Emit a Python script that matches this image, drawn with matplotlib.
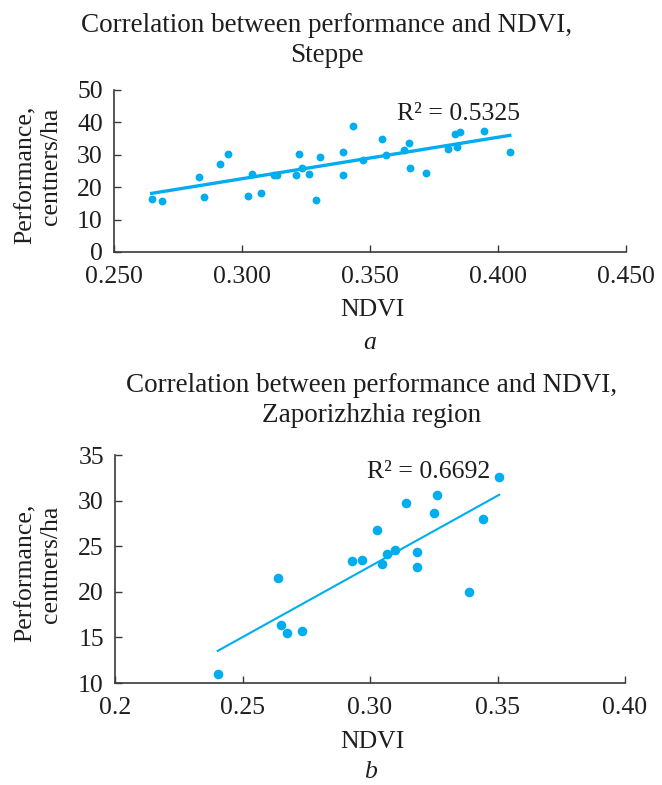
import numpy as np
import matplotlib
matplotlib.use('Agg')
import matplotlib.pyplot as plt

plt.rcParams['font.family'] = ['Liberation Serif', 'DejaVu Serif']

# --- data ---
# panel a: Steppe
ndvi_a = [0.2647, 0.2686, 0.2832, 0.2852, 0.2914, 0.2947, 0.3025, 0.3038, 0.3074,
          0.3125, 0.3135, 0.3210, 0.3223, 0.3236, 0.3262, 0.3288, 0.3306, 0.3395,
          0.3395, 0.3434, 0.3471, 0.3548, 0.3564, 0.3633, 0.3651, 0.3656, 0.3720,
          0.3803, 0.3833, 0.3850, 0.3841, 0.3944, 0.4046]
perf_a = [16.3, 15.6, 23.3, 17.1, 27.3, 30.4, 17.2, 24.2, 18.2,
          23.7, 23.9, 23.7, 30.4, 25.8, 24.1, 16.2, 29.3, 30.9,
          23.7, 39.0, 28.3, 35.0, 29.9, 31.4, 33.5, 25.8, 24.4,
          31.9, 36.4, 36.9, 32.3, 37.5, 30.9]
r2_a = 'R² = 0.5325'

# panel b: Zaporizhzhia region
ndvi_b = [0.2403, 0.2641, 0.2650, 0.2676, 0.2732, 0.2931, 0.2967, 0.3027, 0.3047,
          0.3065, 0.3098, 0.3141, 0.3184, 0.3184, 0.3251, 0.3261, 0.3388, 0.3443,
          0.3507]
perf_b = [11.0, 21.5, 16.4, 15.5, 15.7, 23.4, 23.5, 26.8, 23.0,
          24.1, 24.6, 29.7, 24.4, 22.7, 28.6, 30.6, 20.0, 28.0,
          32.6]
r2_b = 'R² = 0.6692'

xticks_a = [0.25, 0.30, 0.35, 0.40, 0.45]
xlabels_a = ['0.250', '0.300', '0.350', '0.400', '0.450']
yticks_a = [0, 10, 20, 30, 40, 50]
xticks_b = [0.20, 0.25, 0.30, 0.35, 0.40]
xlabels_b = ['0.2', '0.25', '0.30', '0.35', '0.40']
yticks_b = [10, 15, 20, 25, 30, 35]

BLUE = '#00AEEF'
FS = 18.5
TFS = 19.5
INK = '#1e1e1e'
W, H = 662, 785

fig = plt.figure(figsize=(W / 100, H / 100), dpi=100)


def px(x, y):
    return x / W, 1 - y / H


def panel(rect, x, y, xticks, xlabels, yticks, r2, r2pos, ms, lw):
    ax = fig.add_axes(rect)
    ax.scatter(x, y, s=ms, color=BLUE, zorder=3, linewidths=0)
    k, b = np.polyfit(x, y, 1)
    xs = np.array([min(x), max(x)])
    ax.plot(xs, k * xs + b, color=BLUE, lw=lw, zorder=2)
    ax.set_xlim(xticks[0], xticks[-1])
    ax.set_ylim(yticks[0], yticks[-1])
    ax.set_xticks(xticks)
    ax.set_xticklabels(xlabels)
    ax.set_yticks(yticks)
    for s in ['top', 'right']:
        ax.spines[s].set_visible(False)
    for s in ['left', 'bottom']:
        ax.spines[s].set_color('#3a3a3a')
        ax.spines[s].set_linewidth(1.2)
    ax.tick_params(direction='in', length=5, width=1, color='#3a3a3a',
                   labelsize=FS, labelcolor=INK)
    ax.tick_params(axis='x', pad=10)
    ax.tick_params(axis='y', pad=8)
    ax.text(r2pos[0], r2pos[1], r2, transform=ax.transAxes, fontsize=FS,
            ha='center', va='center', color=INK)
    return ax


ax1 = panel([114 / W, 1 - 252 / H, 512 / W, 162 / H], ndvi_a, perf_a,
            xticks_a, xlabels_a, yticks_a, r2_a, (0.672, 0.852), 32, 2.4)
ax2 = panel([115 / W, 1 - 683 / H, 510 / W, 228 / H], ndvi_b, perf_b,
            xticks_b, xlabels_b, yticks_b, r2_b, (0.614, 0.925), 48, 1.5)

# titles
fig.text(*px(327, 26), 'Correlation between performance and NDVI,', fontsize=TFS,
         ha='center', va='center', color=INK)
fig.text(*px(327, 55), 'Steppe', fontsize=TFS, ha='center', va='center', color=INK)
fig.text(*px(372, 386), 'Correlation between performance and NDVI,', fontsize=TFS,
         ha='center', va='center', color=INK)
fig.text(*px(372, 415), 'Zaporizhzhia region', fontsize=TFS, ha='center', va='center',
         color=INK)

# axis labels
for yc in (171, 569):
    fig.text(*px(26, yc + 4), 'Performance,', fontsize=FS, rotation=90,
             ha='center', va='center', color=INK)
    fig.text(*px(51, yc - 5), 'centners/ha', fontsize=FS, rotation=90,
             ha='center', va='center', color=INK)

fig.text(*px(372, 310), 'NDVI', fontsize=FS, ha='center', va='center', color=INK)
fig.text(*px(370, 343), 'a', fontsize=FS, style='italic', ha='center', va='center',
         color=INK)
fig.text(*px(372, 742), 'NDVI', fontsize=FS, ha='center', va='center', color=INK)
fig.text(*px(370, 772), 'b', fontsize=FS, style='italic', ha='center', va='center',
         color=INK)

fig.savefig('out.png', dpi=100)
